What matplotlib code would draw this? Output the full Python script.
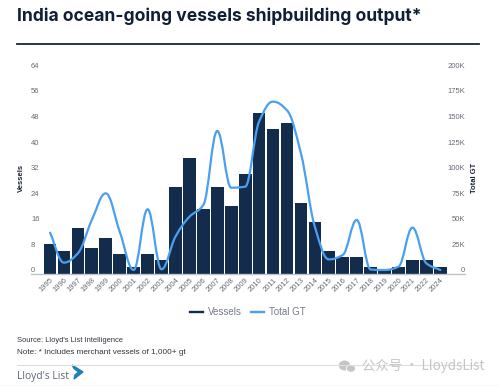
import matplotlib
matplotlib.use("Agg")
import matplotlib.pyplot as plt
import numpy as np
from matplotlib.lines import Line2D
from matplotlib.patches import Ellipse, PathPatch, Polygon
from matplotlib.path import Path

years = ['1995', '1996', '1997', '1998', '1999', '2000', '2001', '2002', '2003', '2004',
         '2005', '2006', '2007', '2008', '2009', '2010', '2011', '2012', '2013', '2014',
         '2015', '2016', '2017', '2018', '2019', '2020', '2021', '2022', '2024']
vessels = [8, 6, 13, 7, 10, 5, 1, 5, 3, 26, 35, 19, 26, 20, 30, 49, 44, 46, 21, 15,
           6, 4, 4, 1, 0, 1, 3, 3, 1]
total_gt = [36500, 7200, 16300, 48900, 74900, 37500, 0, 59300, 700, 32600,
            52000, 63500, 135800, 80400, 81400, 145000, 164500, 156000, 114000, 42300,
            10400, 14700, 48900, 500, 0, 3300, 41400, 6500, 0]
vessel_ticks = [0, 8, 16, 24, 32, 40, 48, 56, 64]
gt_ticks = [0, 25000, 50000, 75000, 100000, 125000, 150000, 175000, 200000]
gt_labels = ['0', '25K', '50K', '75K', '100K', '125K', '150K', '175K', '200K']

W, H = 500, 386
NAVY = '#132c4b'
BLUE = '#4a9ff0'
GREY = '#666b75'


def smooth_path(xs, ys):
    # monotone cubic segments, the curve only bends between the given points
    xs = np.asarray(xs, float)
    ys = np.asarray(ys, float)
    s = np.diff(ys) / np.diff(xs)
    m = np.zeros(len(xs))
    m[0], m[-1] = s[0], s[-1]
    for i in range(1, len(xs) - 1):
        if s[i - 1] * s[i] > 0:
            m[i] = 2 * s[i - 1] * s[i] / (s[i - 1] + s[i])
    verts = [(xs[0], ys[0])]
    codes = [Path.MOVETO]
    for i in range(len(xs) - 1):
        h = (xs[i + 1] - xs[i]) / 2.6
        verts += [(xs[i] + h, ys[i] + m[i] * h),
                  (xs[i + 1] - h, ys[i + 1] - m[i + 1] * h),
                  (xs[i + 1], ys[i + 1])]
        codes += [Path.CURVE4] * 3
    return Path(verts, codes)


fig = plt.figure(figsize=(W / 100, H / 100), dpi=100)
plt.rcParams['font.family'] = ['Liberation Sans', 'DejaVu Sans']

# pixel placement of the plot
ax = fig.add_axes([31 / W, 1 - 273.7 / H, (465 - 31) / W, (273.7 - 65.3) / H])
pitch = 13.94
ax.set_xlim((31 - 50) / pitch, (465 - 50) / pitch)
ymin = -3.7 / ((270 - 65.3) / 64)
ax.set_ylim(ymin, 64)

x = np.arange(len(years))
ax.bar(x, np.array(vessels) - ymin, bottom=ymin, width=0.91, color=NAVY)

ax.set_xticks(x)
ax.set_xticklabels(years, rotation=45, ha='right', rotation_mode='anchor', fontsize=5.5, color=GREY)
ax.set_yticks(vessel_ticks)
ax.set_yticklabels([str(v) for v in vessel_ticks], fontsize=5.5, color=GREY, ha='left')
ax.tick_params(axis='y', length=0, pad=0)
ax.tick_params(axis='x', length=0, pad=2)
for s in ['top', 'left', 'right']:
    ax.spines[s].set_visible(False)
ax.spines['bottom'].set_color('#bfc2c6')
ax.spines['bottom'].set_linewidth(1)

ax2 = ax.twinx()
ax2.set_ylim(ymin / 64 * 200000, 200000)
ax2.set_yticks(gt_ticks)
ax2.set_yticklabels(gt_labels, fontsize=5.5, color=GREY, ha='right')
ax2.tick_params(axis='y', length=0, pad=0)
for s in ['top', 'left', 'right', 'bottom']:
    ax2.spines[s].set_visible(False)
ax2.add_patch(PathPatch(smooth_path(x, total_gt), fill=False, edgecolor=BLUE, linewidth=1.6, capstyle='round'))

fig.text(21 / W, 1 - 178 / H, 'Vessels', rotation=90, ha='center', va='center', fontsize=5.5, fontweight='bold', color='#1c2430')
fig.text(475 / W, 1 - 178 / H, 'Total GT', rotation=90, ha='center', va='center', fontsize=5.5, fontweight='bold', color='#1c2430')

# title and rule
fig.text(17 / W, 1 - 16.5 / H, 'India ocean-going vessels shipbuilding output*', family='Inter',
         fontsize=12.55, fontweight='bold', color='#111f33', ha='left', va='center')
fig.add_artist(Line2D([17 / W, 479 / W], [1 - 43.5 / H] * 2, color='#14263d', lw=1.3))

handles = [Line2D([], [], color=NAVY, lw=1.7), Line2D([], [], color=BLUE, lw=1.7)]
fig.legend(handles, ['Vessels', 'Total GT'], loc='center', bbox_to_anchor=(248 / W, 1 - 312 / H), ncol=2,
           frameon=False, fontsize=7, labelcolor='#767b86', handlelength=1.35, handletextpad=0.5, columnspacing=0.95)

# footer
fig.text(17 / W, 1 - 341 / H, "Source: Lloyd's List Intelligence", fontsize=5.4, color='#30343a', va='center')
fig.text(17 / W, 1 - 352.5 / H, 'Note: * Includes merchant vessels of 1,000+ gt', fontsize=5.85, color='#30343a', va='center')
fig.add_artist(Line2D([17 / W, 480 / W], [1 - 364.5 / H] * 2, color='#dcdfe0', lw=0.8))
fig.text(17 / W, 1 - 376 / H, "Lloyd's List", fontsize=7.4, color='#5f6670', va='center', family='Open Sans')

# logo mark
fig.add_artist(Polygon([(72 / W, 1 - 365 / H), (83 / W, 1 - 372 / H), (74 / W, 1 - 379 / H), (75 / W, 1 - 375 / H),
                        (78.5 / W, 1 - 372 / H), (74 / W, 1 - 368.5 / H)], closed=True, color='#1f7fb5',
                       transform=fig.transFigure))

# watermark
fig.add_artist(Ellipse((344.5 / W, 1 - 365.5 / H), 10 / W, 8.5 / H, color='#c4c6c6', transform=fig.transFigure))
fig.add_artist(Ellipse((351 / W, 1 - 368.5 / H), 9 / W, 7.5 / H, color='#c4c6c6', ec='white', lw=0.6, transform=fig.transFigure))
fig.text(362 / W, 1 - 366 / H, '公众号 · LloydsList', family=['Noto Sans CJK SC', 'DejaVu Sans'], fontsize=9.6,
         color='#c4c6c6', va='center')

# pale strip at the very bottom
fig.add_artist(Line2D([0, 1], [0.5 / H] * 2, color='#dce8e8', lw=1))

fig.savefig('out.png', dpi=100)
